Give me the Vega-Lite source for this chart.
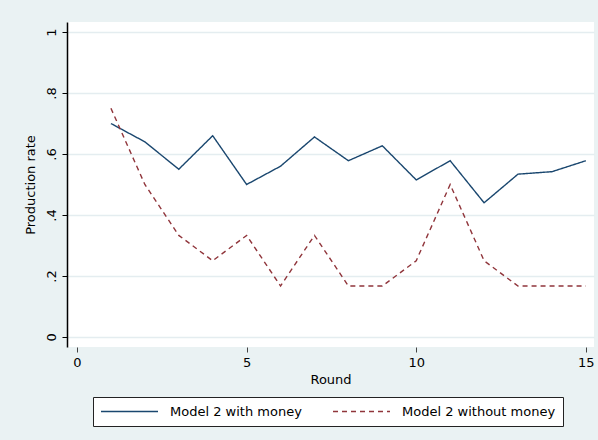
{
  "$schema": "https://vega.github.io/schema/vega-lite/v6.json",
  "width": 527,
  "height": 325,
  "autosize": {"type": "none"},
  "padding": {"left": 67, "top": 22, "right": 4, "bottom": 93},
  "background": "#EAF2F3",
  "config": {
    "view": {"fill": "white", "stroke": null},
    "font": "DejaVu Sans"
  },
  "data": {
    "values": [
      {"round": 1, "rate": 0.70, "series": "Model 2 with money"},
      {"round": 2, "rate": 0.64, "series": "Model 2 with money"},
      {"round": 3, "rate": 0.55, "series": "Model 2 with money"},
      {"round": 4, "rate": 0.66, "series": "Model 2 with money"},
      {"round": 5, "rate": 0.50, "series": "Model 2 with money"},
      {"round": 6, "rate": 0.56, "series": "Model 2 with money"},
      {"round": 7, "rate": 0.656, "series": "Model 2 with money"},
      {"round": 8, "rate": 0.578, "series": "Model 2 with money"},
      {"round": 9, "rate": 0.627, "series": "Model 2 with money"},
      {"round": 10, "rate": 0.515, "series": "Model 2 with money"},
      {"round": 11, "rate": 0.578, "series": "Model 2 with money"},
      {"round": 12, "rate": 0.44, "series": "Model 2 with money"},
      {"round": 13, "rate": 0.534, "series": "Model 2 with money"},
      {"round": 14, "rate": 0.542, "series": "Model 2 with money"},
      {"round": 15, "rate": 0.578, "series": "Model 2 with money"},
      {"round": 1, "rate": 0.75, "series": "Model 2 without money"},
      {"round": 2, "rate": 0.50, "series": "Model 2 without money"},
      {"round": 3, "rate": 0.333, "series": "Model 2 without money"},
      {"round": 4, "rate": 0.25, "series": "Model 2 without money"},
      {"round": 5, "rate": 0.333, "series": "Model 2 without money"},
      {"round": 6, "rate": 0.167, "series": "Model 2 without money"},
      {"round": 7, "rate": 0.333, "series": "Model 2 without money"},
      {"round": 8, "rate": 0.167, "series": "Model 2 without money"},
      {"round": 9, "rate": 0.167, "series": "Model 2 without money"},
      {"round": 10, "rate": 0.25, "series": "Model 2 without money"},
      {"round": 11, "rate": 0.50, "series": "Model 2 without money"},
      {"round": 12, "rate": 0.25, "series": "Model 2 without money"},
      {"round": 13, "rate": 0.167, "series": "Model 2 without money"},
      {"round": 14, "rate": 0.167, "series": "Model 2 without money"},
      {"round": 15, "rate": 0.167, "series": "Model 2 without money"}
    ]
  },
  "mark": {"type": "line", "strokeWidth": 1.4},
  "encoding": {
    "x": {
      "field": "round",
      "type": "quantitative",
      "scale": {"domain": [-0.295, 15.24], "nice": false, "zero": false},
      "axis": {
        "values": [0, 5, 10, 15],
        "title": "Round",
        "domain": false,
        "grid": false,
        "tickSize": 5,
        "tickColor": "#444",
        "labelFontSize": 13,
        "labelColor": "#000",
        "labelPadding": 4,
        "titleFontSize": 13,
        "titleFontWeight": "normal",
        "titleColor": "#000",
        "titlePadding": 4
      }
    },
    "y": {
      "field": "rate",
      "type": "quantitative",
      "scale": {"domain": [-0.033, 1.033], "nice": false, "zero": false},
      "axis": {
        "values": [0, 0.2, 0.4, 0.6, 0.8, 1],
        "labelExpr": "replace(format(datum.value, '~g'), '0.', '.')",
        "labelAngle": -90,
        "title": "Production rate",
        "domainColor": "#000",
        "domainWidth": 1.5,
        "tickColor": "#000",
        "tickSize": 5,
        "grid": true,
        "gridColor": "#E4EDF0",
        "gridWidth": 1.5,
        "labelFontSize": 13,
        "labelColor": "#000",
        "labelPadding": 4,
        "titleFontSize": 13,
        "titleFontWeight": "normal",
        "titleColor": "#000",
        "titlePadding": 8
      }
    },
    "color": {
      "field": "series",
      "type": "nominal",
      "scale": {"domain": ["Model 2 with money", "Model 2 without money"], "range": ["#1A476F", "#90353B"]},
      "legend": {
        "title": null,
        "orient": "none",
        "legendX": 26,
        "legendY": 375,
        "direction": "horizontal",
        "fillColor": "white",
        "strokeColor": "#222",
        "padding": 7,
        "clipHeight": 15,
        "symbolType": "stroke",
        "symbolSize": 3249,
        "symbolStrokeWidth": 1.4,
        "labelFontSize": 13,
        "labelColor": "#000",
        "labelOffset": 11,
        "columnPadding": 30
      }
    },
    "strokeDash": {
      "field": "series",
      "type": "nominal",
      "scale": {"domain": ["Model 2 with money", "Model 2 without money"], "range": [[1, 0], [5, 4]]},
      "legend": {
        "title": null,
        "orient": "none",
        "legendX": 26,
        "legendY": 375,
        "direction": "horizontal",
        "fillColor": "white",
        "strokeColor": "#222",
        "padding": 7,
        "clipHeight": 15,
        "symbolType": "stroke",
        "symbolSize": 3249,
        "symbolStrokeWidth": 1.4,
        "labelFontSize": 13,
        "labelColor": "#000",
        "labelOffset": 11,
        "columnPadding": 30
      }
    }
  }
}
